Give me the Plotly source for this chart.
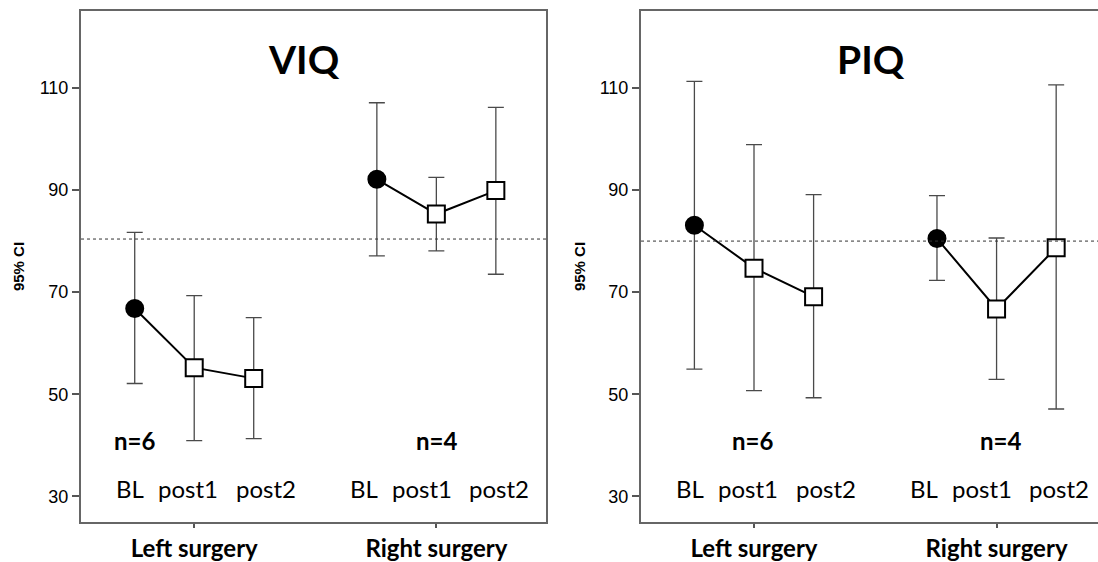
import plotly.graph_objects as go

# ---------------- data ----------------
timepoints = ["BL", "post1", "post2"]
groups = ["Left surgery", "Right surgery"]
group_n = ["n=6", "n=4"]
panel_titles = ["VIQ", "PIQ"]

viq_left_mean = [66.8, 55.2, 53.1]
viq_left_low = [52.1, 40.9, 41.3]
viq_left_high = [81.7, 69.3, 65.0]
viq_right_mean = [92.1, 85.3, 89.9]
viq_right_low = [77.1, 78.1, 73.5]
viq_right_high = [107.1, 92.5, 106.2]
viq_ref = 80.4

piq_left_mean = [83.1, 74.7, 69.1]
piq_left_low = [54.9, 50.7, 49.3]
piq_left_high = [111.3, 98.9, 89.1]
piq_right_mean = [80.5, 66.7, 78.7]
piq_right_low = [72.3, 52.9, 47.1]
piq_right_high = [88.9, 80.6, 110.6]
piq_ref = 80.0

y_ticks = [30, 50, 70, 90, 110]
y_title = "95% CI"

# ---------------- layout helpers ----------------
W, H = 1098, 562
GROUP_POS = [0.0, 4.07]
OFFSETS = [-1, 0, 1]
LABEL_OFF = [[-1.08, -0.1, 1.2], [-1.22, -0.24, 1.05]]
N_OFF = [[-1.0, 4.08], [-0.03, 4.13]]
TITLE_X = [1.84, 1.96]

panels = [
    dict(title=panel_titles[0], ref=viq_ref,
         data=[(viq_left_mean, viq_left_low, viq_left_high),
               (viq_right_mean, viq_right_low, viq_right_high)]),
    dict(title=panel_titles[1], ref=piq_ref,
         data=[(piq_left_mean, piq_left_low, piq_left_high),
               (piq_right_mean, piq_right_low, piq_right_high)]),
]

CAL = "Lato"
ARIAL = "Liberation Sans"

fig = go.Figure()

for p, panel in enumerate(panels):
    xa = "x" if p == 0 else "x2"
    ya = "y" if p == 0 else "y2"
    for g, (mean, low, high) in enumerate(panel["data"]):
        xs = [GROUP_POS[g] + o for o in OFFSETS]
        # error bars (underneath)
        fig.add_trace(go.Scatter(
            x=xs, y=mean, xaxis=xa, yaxis=ya, mode="markers",
            marker=dict(size=1, color="rgba(0,0,0,0)"),
            error_y=dict(type="data", symmetric=False,
                         array=[h - m for h, m in zip(high, mean)],
                         arrayminus=[m - l for m, l in zip(mean, low)],
                         color="#4a4a4a", thickness=1.3, width=8),
            showlegend=False, hoverinfo="skip"))
    for g, (mean, low, high) in enumerate(panel["data"]):
        xs = [GROUP_POS[g] + o for o in OFFSETS]
        fig.add_trace(go.Scatter(
            x=xs, y=mean, xaxis=xa, yaxis=ya, mode="lines+markers",
            line=dict(color="black", width=2),
            marker=dict(symbol=["circle", "square", "square"],
                        color=["black", "white", "white"],
                        size=17, opacity=1,
                        line=dict(color="black", width=2)),
            showlegend=False, hoverinfo="skip"))
        # n labels
        fig.add_annotation(x=N_OFF[p][g], y=40.9, xref=xa, yref=ya,
                           text="<b>%s</b>" % group_n[g], showarrow=False,
                           font=dict(family=CAL, size=24, color="black"),
                           xanchor="center", yanchor="middle")
        for t, lab in enumerate(timepoints):
            fig.add_annotation(x=GROUP_POS[g] + LABEL_OFF[g][t], y=31.5,
                               xref=xa, yref=ya, text=lab, showarrow=False,
                               font=dict(family=CAL, size=24, color="black"),
                               xanchor="center", yanchor="middle")
    # title
    fig.add_annotation(x=TITLE_X[p], y=115.6, xref=xa, yref=ya,
                       text="<b>%s</b>" % panel["title"], showarrow=False,
                       font=dict(family=CAL, size=39, color="black"),
                       xanchor="center", yanchor="middle")
    # reference line
    fig.add_shape(type="line", xref=xa + " domain", yref=ya,
                  x0=0, x1=1, y0=panel["ref"], y1=panel["ref"],
                  line=dict(color="#333333", width=1, dash="dot"))

# y axis titles
for xc in [18.5, 579.5]:
    fig.add_annotation(x=xc / W, y=1 - 269 / H, xref="paper", yref="paper",
                       text="<b>%s</b>" % y_title, showarrow=False, textangle=-90,
                       font=dict(family=ARIAL, size=15, color="black"),
                       xanchor="center", yanchor="middle")

ydom = [1 - 527 / H, 1 - 11 / H]
yrange = [24.9, 125.1]
axis_common_x = dict(
    tickmode="array", tickvals=GROUP_POS, ticktext=["<b>%s</b>" % g for g in groups],
    tickfont=dict(family=CAL, size=24, color="black"),
    ticks="outside", ticklen=4, tickcolor="#555", tickwidth=1.5,
    showline=True, linecolor="#666", linewidth=2, mirror=True,
    showgrid=False, zeroline=False, fixedrange=True)
axis_common_y = dict(
    tickmode="array", tickvals=y_ticks, ticktext=[str(v) for v in y_ticks],
    tickfont=dict(family=ARIAL, size=18, color="#000"),
    ticks="outside", ticklen=7, tickcolor="#555", tickwidth=1.5,
    showline=True, linecolor="#666", linewidth=2,
    showgrid=False, zeroline=False, range=yrange, domain=ydom)

fig.update_layout(
    width=W, height=H, margin=dict(l=0, r=0, t=0, b=0),
    paper_bgcolor="white", plot_bgcolor="white",
    xaxis=dict(axis_common_x, domain=[81 / W, 546 / W], range=[-1.903, 5.913], anchor="y"),
    yaxis=dict(axis_common_y, mirror=True, anchor="x"),
    xaxis2=dict(axis_common_x, domain=[641 / W, 1.0], range=[-1.896, -1.896 + 457 / 59.6], anchor="y2"),
    yaxis2=dict(axis_common_y, mirror=False, anchor="x2"),
)

fig.write_html("out.html")
